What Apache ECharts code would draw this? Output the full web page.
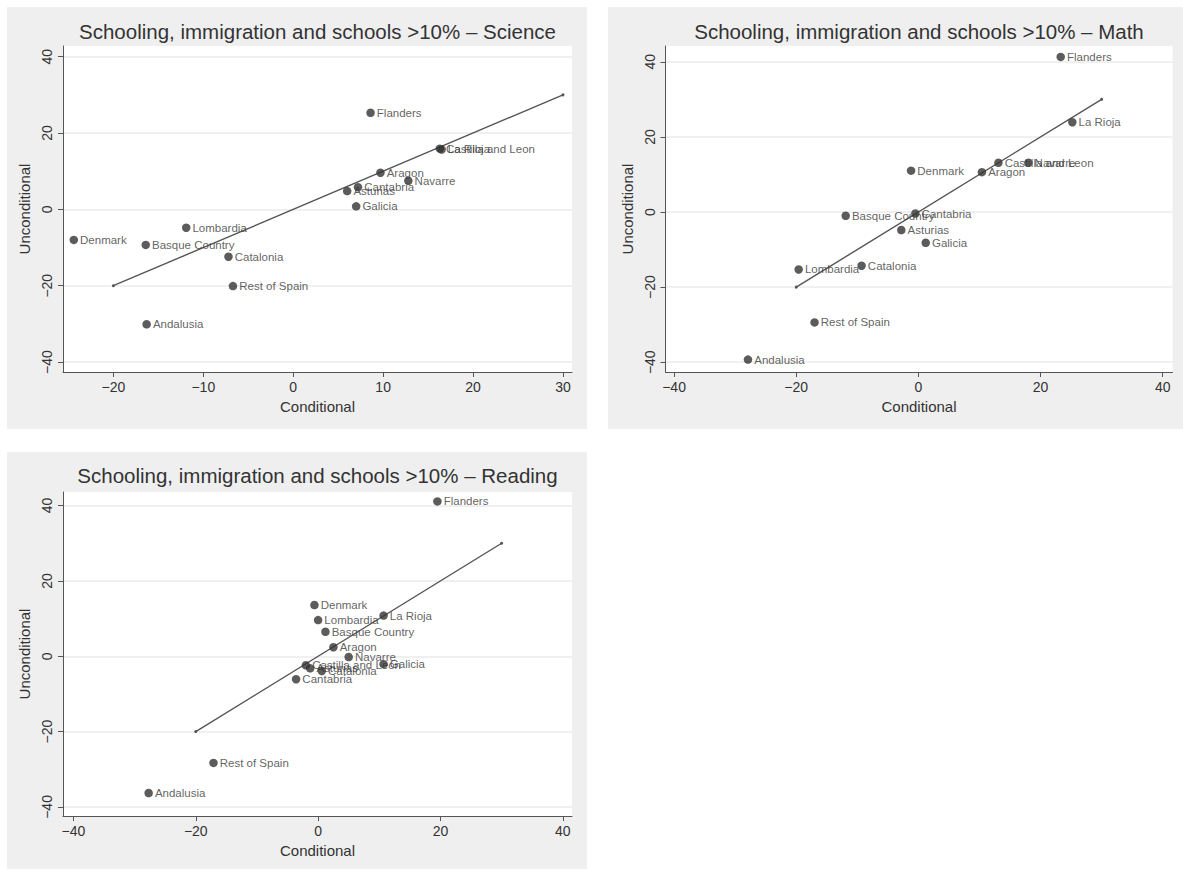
<!DOCTYPE html>
<html>
<head>
<meta charset="utf-8">
<script src="https://cdn.jsdelivr.net/npm/echarts@6/dist/echarts.min.js"></script>
<style>
  html, body { margin: 0; padding: 0; background: #ffffff; }
  body { width: 1183px; height: 871px; position: relative; overflow: hidden; }
  .panel { position: absolute; background: #efefef; }
</style>
</head>
<body>
<div id="p1" class="panel" style="left:7px;top:7px;width:580px;height:422px;"></div>
<div id="p2" class="panel" style="left:608px;top:7px;width:575px;height:422px;"></div>
<div id="p3" class="panel" style="left:7px;top:452px;width:580px;height:417px;"></div>
<script>
// ---------- data ----------
const scienceNames = ["Flanders", "Castilla and Leon", "La Rioja", "Aragon", "Navarre", "Cantabria", "Asturias", "Galicia", "Lombardia", "Denmark", "Basque Country", "Catalonia", "Rest of Spain", "Andalusia"];
const scienceX = [8.6, 16.3, 16.5, 9.7, 12.8, 7.2, 6.0, 7.0, -11.9, -24.4, -16.4, -7.2, -6.7, -16.3];
const scienceY = [25.3, 15.9, 15.7, 9.6, 7.5, 5.8, 4.8, 0.8, -4.8, -8.0, -9.3, -12.4, -20.1, -30.1];

const mathNames = ["Flanders", "La Rioja", "Castilla and Leon", "Navarre", "Denmark", "Aragon", "Basque Country", "Cantabria", "Asturias", "Galicia", "Lombardia", "Catalonia", "Rest of Spain", "Andalusia"];
const mathX = [23.3, 25.2, 13.1, 18.0, -1.2, 10.4, -11.9, -0.5, -2.8, 1.2, -19.6, -9.3, -17.0, -27.9];
const mathY = [41.3, 23.9, 13.1, 13.1, 11.0, 10.6, -1.0, -0.4, -4.8, -8.2, -15.3, -14.3, -29.4, -39.3];

const readingNames = ["Flanders", "Denmark", "La Rioja", "Lombardia", "Basque Country", "Aragon", "Navarre", "Galicia", "Castilla and Leon", "Asturias", "Catalonia", "Cantabria", "Rest of Spain", "Andalusia"];
const readingX = [19.5, -0.6, 10.7, 0.0, 1.2, 2.5, 5.0, 10.7, -2.0, -1.3, 0.6, -3.6, -17.1, -27.7];
const readingY = [41.1, 13.6, 10.8, 9.6, 6.5, 2.4, -0.2, -2.1, -2.4, -3.2, -3.9, -6.1, -28.3, -36.3];

// 45-degree reference line end points
const refLineX = [-20, 30];
const refLineY = [-20, 30];

const scienceXTicks = [-20, -10, 0, 10, 20, 30];
const wideXTicks = [-40, -20, 0, 20, 40];
const yTicks = [-40, -20, 0, 20, 40];

const titles = [
  "Schooling, immigration and schools >10% \u2013 Science",
  "Schooling, immigration and schools >10% \u2013 Math",
  "Schooling, immigration and schools >10% \u2013 Reading"
];

// ---------- styling ----------
const FONT = "Liberation Sans, Arial, Helvetica, sans-serif";
const AXIS_COLOR = "#555555";
const TEXT_COLOR = "#333333";

function fmt(v) {
  return String(v).replace('-', '\u2212');
}

function buildOption(cfg) {
  const pts = cfg.names.map((n, i) => ({ name: n, value: [cfg.x[i], cfg.y[i]] }));
  const line = refLineX.map((v, i) => [v, refLineY[i]]);
  return {
    animation: false,
    backgroundColor: '#efefef',
    title: {
      text: cfg.title,
      left: cfg.grid.left + cfg.grid.width / 2,
      top: cfg.titleTop,
      textAlign: 'center',
      padding: 0,
      textStyle: { fontFamily: FONT, fontSize: 20.5, fontWeight: 'normal', color: TEXT_COLOR }
    },
    grid: {
      left: cfg.grid.left, top: cfg.grid.top, width: cfg.grid.width, height: cfg.grid.height,
      show: true, backgroundColor: '#ffffff', borderWidth: 0, containLabel: false
    },
    xAxis: {
      type: 'value', min: cfg.xmin, max: cfg.xmax,
      name: 'Conditional', nameLocation: 'middle', nameGap: 16,
      nameTextStyle: { fontFamily: FONT, fontSize: 15, color: TEXT_COLOR },
      axisLine: { show: true, onZero: false, lineStyle: { color: AXIS_COLOR, width: 1 } },
      axisTick: { show: true, length: 5, customValues: cfg.xTicks, lineStyle: { color: AXIS_COLOR } },
      axisLabel: { customValues: cfg.xTicks, formatter: fmt, margin: 8, fontFamily: FONT, fontSize: 14, color: TEXT_COLOR },
      splitLine: { show: false }
    },
    yAxis: {
      type: 'value', min: cfg.ymin, max: cfg.ymax,
      name: 'Unconditional', nameLocation: 'middle', nameGap: 21,
      nameTextStyle: { fontFamily: FONT, fontSize: 15, color: TEXT_COLOR },
      axisLine: { show: true, onZero: false, lineStyle: { color: AXIS_COLOR, width: 1 } },
      axisTick: { show: true, length: 5, customValues: yTicks, lineStyle: { color: AXIS_COLOR } },
      axisLabel: { customValues: yTicks, formatter: fmt, rotate: 90, margin: 9, align: 'center', verticalAlign: 'bottom', fontFamily: FONT, fontSize: 14, color: TEXT_COLOR },
      splitLine: { show: true, lineStyle: { color: '#ebebeb', width: 1.5 } }
    },
    series: [
      {
        type: 'line', data: line, symbol: 'circle', symbolSize: 3,
        itemStyle: { color: '#555555' },
        lineStyle: { color: '#555555', width: 1.4 }, z: 2
      },
      {
        type: 'scatter', data: pts, symbol: 'circle', symbolSize: 8.5,
        itemStyle: { color: '#333333' },
        label: {
          show: true, position: 'right', distance: 2, formatter: '{b}',
          fontFamily: FONT, fontSize: 11.5, color: '#383838'
        },
        z: 3
      }
    ]
  };
}

const configs = [
  { el: 'p1', title: titles[0], names: scienceNames, x: scienceX, y: scienceY,
    xmin: -25.6, xmax: 31.0, ymin: -42.6, ymax: 42.8, xTicks: scienceXTicks,
    grid: { left: 56, top: 39, width: 509, height: 326 }, titleTop: 14 },
  { el: 'p2', title: titles[1], names: mathNames, x: mathX, y: mathY,
    xmin: -41.4, xmax: 41.6, ymin: -42.6, ymax: 44.2, xTicks: wideXTicks,
    grid: { left: 57.5, top: 39, width: 507, height: 326 }, titleTop: 14 },
  { el: 'p3', title: titles[2], names: readingNames, x: readingX, y: readingY,
    xmin: -41.7, xmax: 41.5, ymin: -42.4, ymax: 43.6, xTicks: wideXTicks,
    grid: { left: 56, top: 40, width: 509, height: 324 }, titleTop: 13 }
];

configs.forEach(cfg => {
  const chart = echarts.init(document.getElementById(cfg.el), null, { renderer: 'svg' });
  chart.setOption(buildOption(cfg));
});
</script>
</body>
</html>
